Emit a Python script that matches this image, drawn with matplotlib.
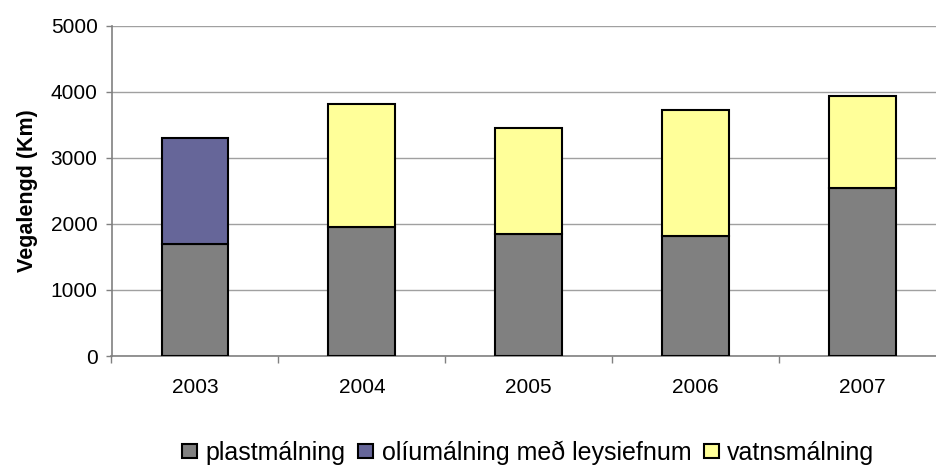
import matplotlib
matplotlib.use('Agg')
from matplotlib import pyplot as plt
import numpy as np

plt.rcParams['font.family'] = ['Liberation Sans', 'DejaVu Sans']

# --- Datos ---------------------------------------------------------------------------------------
years = ['2003', '2004', '2005', '2006', '2007']
plast = [1690, 1960, 1840, 1815, 2545]
olia = [1610, 0, 0, 0, 0]
vatn = [0, 1850, 1610, 1910, 1395]
series_names = ['plastmálning', 'olíumálning með leysiefnum', 'vatnsmálning']

# --- Figura --------------------------------------------------------------------------------------
fig = plt.figure(figsize=(9.36, 4.67), dpi=100)
ax = fig.add_axes([111.5/936, 1-356/467, (946-111.5)/936, (356-25.7)/467])

x = np.arange(len(years))
w = 0.4
kw = dict(width=w, edgecolor='black', linewidth=1.5, zorder=3)
b1 = ax.bar(x, plast, color='#808080', label=series_names[0], **kw)
olia_m = np.array(olia, dtype=float)
b2 = ax.bar(x[olia_m > 0], olia_m[olia_m > 0], bottom=np.array(plast)[olia_m > 0],
            color='#666699', label=series_names[1], **kw)
vatn_m = np.array(vatn, dtype=float)
b3 = ax.bar(x[vatn_m > 0], vatn_m[vatn_m > 0], bottom=np.array(plast)[vatn_m > 0],
            color='#FFFF99', label=series_names[2], **kw)

ax.set_xlim(-0.5, len(years) - 0.5)
ax.set_ylim(0, 5000)
ax.set_yticks(np.arange(0, 5001, 1000))
ax.yaxis.grid(True, color='#a0a0a0', linewidth=1, zorder=0)
ax.set_axisbelow(True)

ax.set_xticks(x)
ax.set_xticklabels(years, fontsize=15)
ax.set_xticks(np.arange(-0.5, len(years), 1), minor=True)
ax.tick_params(axis='x', which='major', length=0, pad=16)
ax.tick_params(axis='x', which='minor', length=5, color='#808080', width=1)
ax.tick_params(axis='y', length=4, color='#808080', width=1, labelsize=15, pad=6)

for s in ['top', 'right']:
    ax.spines[s].set_visible(False)
ax.spines['left'].set_color('#808080')
ax.spines['bottom'].set_color('#808080')
ax.spines['left'].set_linewidth(1.2)
ax.spines['bottom'].set_linewidth(1.2)

ax.set_ylabel('Vegalengd (Km)', fontsize=15.5, fontweight='bold', labelpad=9)

fig.legend(handles=[b1, b2, b3], loc='center', bbox_to_anchor=(528/936, 1-453/467),
           ncol=3, frameon=False, fontsize=18, handlelength=0.6, handleheight=0.5,
           handletextpad=0.35, columnspacing=0.5, borderaxespad=0)

fig.savefig('out.png', dpi=100)
